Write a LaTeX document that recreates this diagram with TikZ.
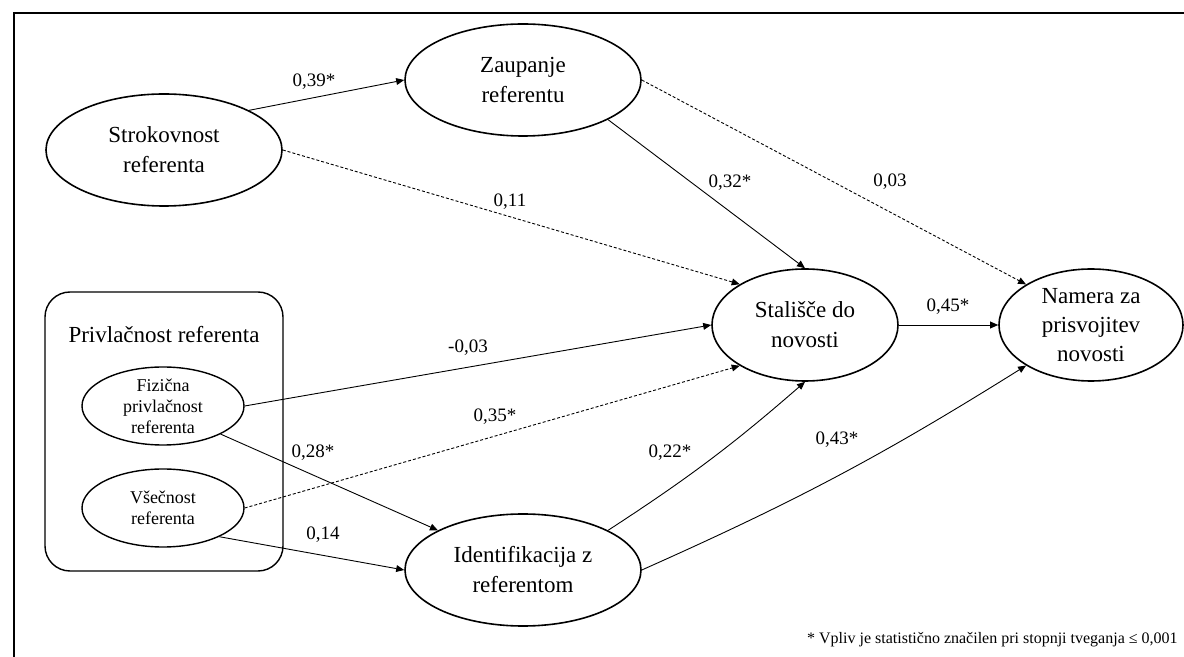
\documentclass[tikz,border=0pt]{standalone}
\usepackage{fontspec}
\setmainfont{Liberation Serif}
\usetikzlibrary{arrows.meta,shapes.geometric}

\tikzset{
  konstrukt/.style={draw,ellipse,line width=0.8pt,inner sep=0pt,minimum width=118pt,minimum height=56pt,
    align=center,font=\fontsize{11.5}{15}\selectfont},
  ozek/.style={konstrukt,minimum width=93pt},
  podkonstrukt/.style={draw,ellipse,line width=0.7pt,inner sep=0pt,minimum width=81pt,minimum height=39pt,
    align=center,font=\fontsize{9}{10.5}\selectfont},
  pot/.style={-{Triangle[length=4pt,width=3.4pt]},line width=0.45pt},
  nepot/.style={pot,dash pattern=on 1.5pt off 1pt},
  utez/.style={inner sep=0pt,font=\fontsize{9.5}{11}\selectfont}
}

\begin{document}
\begin{tikzpicture}[x=0.5pt,y=-0.5pt]
  \useasboundingbox (0,0) rectangle (1184,657);
  % okvir
  \draw[line width=0.6pt] (14,657) -- (14,13) -- (1184,13);
  % skupina privlacnost
  \node[draw,rounded corners=12.5pt,line width=0.7pt,minimum width=119pt,minimum height=139.5pt] (grp) at (164,431.5) {};
  \node[inner sep=0pt,font=\fontsize{11.5}{15}\selectfont] (grpnaslov) at (164,335) {Privlačnost referenta};
  \node[podkonstrukt] (fiz) at (163,406) {Fizična\\privlačnost\\referenta};
  \node[podkonstrukt] (vsec) at (163,508) {Všečnost\\referenta};
  % konstrukti
  \node[konstrukt] (strok) at (164,150) {Strokovnost\\referenta};
  \node[konstrukt] (zaup) at (523,80) {Zaupanje\\referentu};
  \node[konstrukt] (ident) at (523,570) {Identifikacija z\\referentom};
  \node[ozek] (stal) at (805,325) {Stališče do\\novosti};
  \node[ozek,minimum width=92pt,font=\fontsize{11.5}{14.5}\selectfont] (nam) at (1091,325) {Namera za\\prisvojitev\\novosti};
  % poti
  \draw[pot] (strok.25) -- (zaup.west);
  \draw[nepot] (strok.east) -- (stal.148);
  \draw[pot] (zaup.-25) -- (stal.north);
  \draw[nepot] (zaup.east) -- (nam.148);
  \draw[pot] (fiz.east) -- (stal.west);
  \draw[nepot] (vsec.east) -- (stal.212);
  \draw[pot] (fiz.-26) -- (ident.155);
  \draw[pot] (vsec.-27) -- (ident.west);
  \draw[pot] (ident.25) to[bend right=4] (stal.south);
  \draw[pot] (ident.east) to[bend right=4] (nam.212);
  \draw[pot] (stal.east) -- (nam.west);
  % koeficienti
  \node[utez] (k39) at (314,82) {0,39*};
  \node[utez] (k11) at (510,202) {0,11};
  \node[utez] (k32) at (730,183) {0,32*};
  \node[utez] (k03) at (890,182) {0,03};
  \node[utez] (km03) at (468,348) {-0,03};
  \node[utez] (k35) at (495,417) {0,35*};
  \node[utez] (k28) at (313,453) {0,28*};
  \node[utez] (k14) at (323,535) {0,14};
  \node[utez] (k22) at (670,453) {0,22*};
  \node[utez] (k43) at (837,440) {0,43*};
  \node[utez] (k45) at (948,307) {0,45*};
  % opomba
  \node[inner sep=0pt,anchor=east,font=\fontsize{8}{10}\selectfont] (opomba) at (1178,640)
    {* Vpliv je statistično značilen pri stopnji tveganja ≤ 0,001};
\end{tikzpicture}
\end{document}
